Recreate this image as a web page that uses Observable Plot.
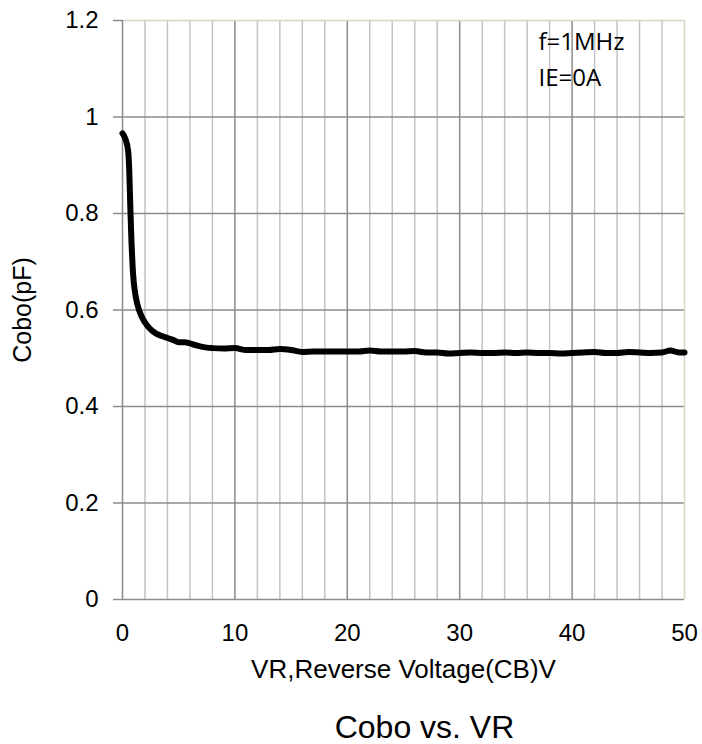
<!DOCTYPE html>
<html>
<head>
<meta charset="utf-8">
<script src="https://cdn.jsdelivr.net/npm/d3@7"></script>
<script src="https://cdn.jsdelivr.net/npm/@observablehq/plot@0.6"></script>
<style>
  html, body { margin: 0; padding: 0; background: #fff; }
  svg { display: block; }
</style>
</head>
<body>
<div id="chart"></div>
<script>
// Data
const vr = [0, 0.25, 0.5, 0.6, 0.7, 0.8, 0.9, 1.0, 1.2, 1.5, 2, 2.5, 3, 3.5, 4, 4.5, 5, 5.5, 6, 6.5, 7, 7.5, 8, 9, 10,
  11, 12, 13, 14, 15, 16, 17, 18, 19, 20, 21, 22, 23, 24, 25, 26, 27, 28, 29, 30,
  31, 32, 33, 34, 35, 36, 37, 38, 39, 40, 41, 42, 43, 44, 45, 46, 47, 48, 48.75, 49.5, 50];
const cobo = [0.966, 0.955, 0.93, 0.89, 0.81, 0.74, 0.69, 0.658, 0.625, 0.598, 0.574, 0.560, 0.551, 0.546, 0.542, 0.538, 0.533, 0.533, 0.531, 0.527, 0.524, 0.522, 0.521, 0.520, 0.521,
  0.517, 0.517, 0.517, 0.519, 0.517, 0.513, 0.514, 0.514, 0.514, 0.514, 0.514, 0.516, 0.514, 0.514, 0.514, 0.515, 0.512, 0.512, 0.510, 0.511,
  0.512, 0.511, 0.511, 0.512, 0.511, 0.512, 0.511, 0.511, 0.510, 0.511, 0.512, 0.513, 0.511, 0.511, 0.513, 0.512, 0.511, 0.512, 0.516, 0.512, 0.512];

const xMajorTicks = [0, 10, 20, 30, 40, 50];
const xMinorTicks = [2, 4, 6, 8, 12, 14, 16, 18, 22, 24, 26, 28, 32, 34, 36, 38, 42, 44, 46, 48];
const yTicks = [0, 0.2, 0.4, 0.6, 0.8, 1.0, 1.2];
const notes = ["f=1MHz", "IE=0A"];
const xLabel = "VR,Reverse Voltage(CB)V";
const yLabel = "Cobo(pF)";
const title = "Cobo vs. VR";

const data = vr.map((v, i) => ({vr: v, cobo: cobo[i]}));

const gridDark = "#8c8c8c";
const gridLight = "#c3c3c3";
const tan = "#d9d5c4";
const font = "'Liberation Sans', Arial, sans-serif";

const chart = Plot.plot({
  width: 702,
  height: 744,
  marginLeft: 122,
  marginRight: 18,
  marginTop: 20,
  marginBottom: 145,
  style: {fontFamily: font, color: "#000", background: "#fff"},
  x: {domain: [0, 50]},
  y: {domain: [0, 1.2]},
  marks: [
    Plot.gridX(xMinorTicks, {stroke: gridLight, strokeOpacity: 1, strokeWidth: 1.5}),
    Plot.gridX(xMajorTicks.filter(d => d > 0 && d < 50), {stroke: gridDark, strokeOpacity: 1, strokeWidth: 1.5}),
    Plot.gridY(yTicks.filter(d => d > 0 && d < 1.2), {stroke: gridDark, strokeOpacity: 1, strokeWidth: 1.5}),
    Plot.ruleY([1.2], {stroke: tan, strokeWidth: 1.5}),
    Plot.ruleX([50], {stroke: tan, strokeWidth: 1.5}),
    Plot.ruleX([0], {stroke: gridDark, strokeWidth: 1.5}),
    Plot.axisY(yTicks, {
      tickSize: 9, tickPadding: 15, stroke: gridDark, strokeWidth: 1.5,
      fontSize: 24, label: null,
      tickFormat: d => String(+d.toFixed(1))
    }),
    Plot.axisX(xMajorTicks, {
      tickSize: 0, tickPadding: 24, fontSize: 24, label: null,
      tickFormat: d => String(d)
    }),
    Plot.ruleY([0], {stroke: gridDark, strokeWidth: 1.5}),
    Plot.line(data, {x: "vr", y: "cobo", stroke: "#000", strokeWidth: 6, curve: "monotone-x", strokeLinejoin: "round", strokeLinecap: "round"}),
    Plot.text([notes[0]], {frameAnchor: "top-left", dx: 416, dy: 22, text: d => d, fontSize: 24, fontFamily: "'Open Sans', sans-serif", textAnchor: "start", lineAnchor: "middle", fill: "#000"}),
    Plot.text([notes[1]], {frameAnchor: "top-left", dx: 416, dy: 58, text: d => d, fontSize: 24, fontFamily: "'Open Sans', sans-serif", textAnchor: "start", lineAnchor: "middle", fill: "#000"}),
    Plot.text([yLabel], {frameAnchor: "left", dx: -100, rotate: -90, text: d => d, fontSize: 25, textAnchor: "middle", lineAnchor: "middle", fill: "#000"}),
    Plot.text([xLabel], {frameAnchor: "bottom", dy: 70, text: d => d, fontSize: 26, textAnchor: "middle", lineAnchor: "middle", fill: "#000"}),
    Plot.text([title], {frameAnchor: "bottom", dx: 21, dy: 128, text: d => d, fontSize: 32, textAnchor: "middle", lineAnchor: "middle", fill: "#000"})
  ]
});
document.getElementById("chart").appendChild(chart);
</script>
</body>
</html>
